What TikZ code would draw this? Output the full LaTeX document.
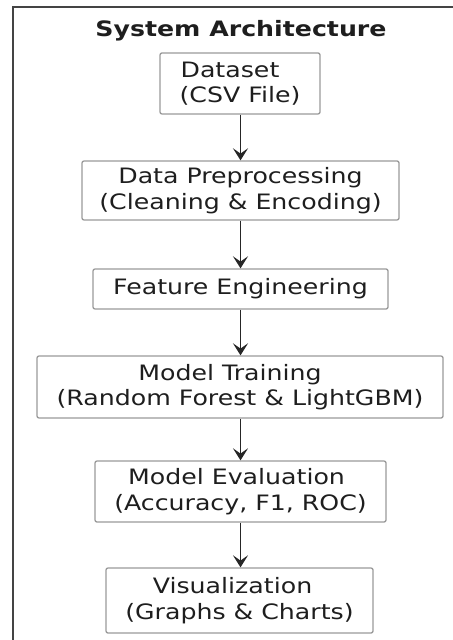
\documentclass[tikz,border=0pt]{standalone}
\usepackage{fontspec}
\setmainfont[FakeStretch=1.19]{DejaVu Sans}
\usetikzlibrary{arrows.meta}
\definecolor{framec}{HTML}{444444}
\definecolor{boxc}{HTML}{9A9A9A}
\definecolor{arrc}{HTML}{262626}
\definecolor{txtc}{HTML}{1E1E1E}
\tikzset{
  stagebox/.style={draw=boxc, line width=0.65pt, rounded corners=1pt, fill=white,
    inner sep=0pt, align=center, text=txtc,
    font=\fontsize{10.6pt}{12.8pt}\selectfont},
  flowarrow/.style={draw=arrc, line width=0.9pt,
    -{Stealth[length=6pt,width=7.5pt,inset=2.6pt]}},
}
\begin{document}
\begin{tikzpicture}[x=0.5pt,y=-0.5pt]
\useasboundingbox (0,0) rectangle (452,640);
% frame
\draw[framec, line width=1pt] (13,641) -- (13,7.5) -- (453,7.5);
% title
\node[anchor=base, text=txtc, font=\bfseries\fontsize{10.6pt}{12.5pt}\selectfont] (title) at (241,36.5) {System Architecture};
% stages
\node[stagebox, minimum width=80pt, minimum height=30.5pt] (ds) at (240,83.5)
  {\hbox{Dataset\kern10pt}\\(CSV File)};
\node[stagebox, minimum width=158.5pt, minimum height=29.5pt] (pre) at (240.5,190.5)
  {Data Preprocessing\\(Cleaning \& Encoding)};
\node[stagebox, minimum width=147.5pt, minimum height=20pt] (fe) at (240.5,289)
  {Feature Engineering};
\node[stagebox, minimum width=203pt, minimum height=31pt] (mt) at (240,387)
  {\hbox{Model Training\kern10pt}\\(Random Forest \& LightGBM)};
\node[stagebox, minimum width=145.5pt, minimum height=30.5pt] (me) at (240.5,491.5)
  {\hbox{Model Evaluation\kern4pt}\\(Accuracy, F1, ROC)};
\node[stagebox, minimum width=133.5pt, minimum height=32.5pt] (vis) at (239.5,600.5)
  {\hbox{Visualization\kern7pt}\\(Graphs \& Charts)};
% arrows
\coordinate (ax) at (240.5,0);
\draw[flowarrow] (ds.south -| ax) -- (pre.north -| ax);
\draw[flowarrow] (pre.south -| ax) -- (fe.north -| ax);
\draw[flowarrow] (fe.south -| ax) -- (mt.north -| ax);
\draw[flowarrow] (mt.south -| ax) -- (me.north -| ax);
\draw[flowarrow] (me.south -| ax) -- (vis.north -| ax);
\end{tikzpicture}
\end{document}
